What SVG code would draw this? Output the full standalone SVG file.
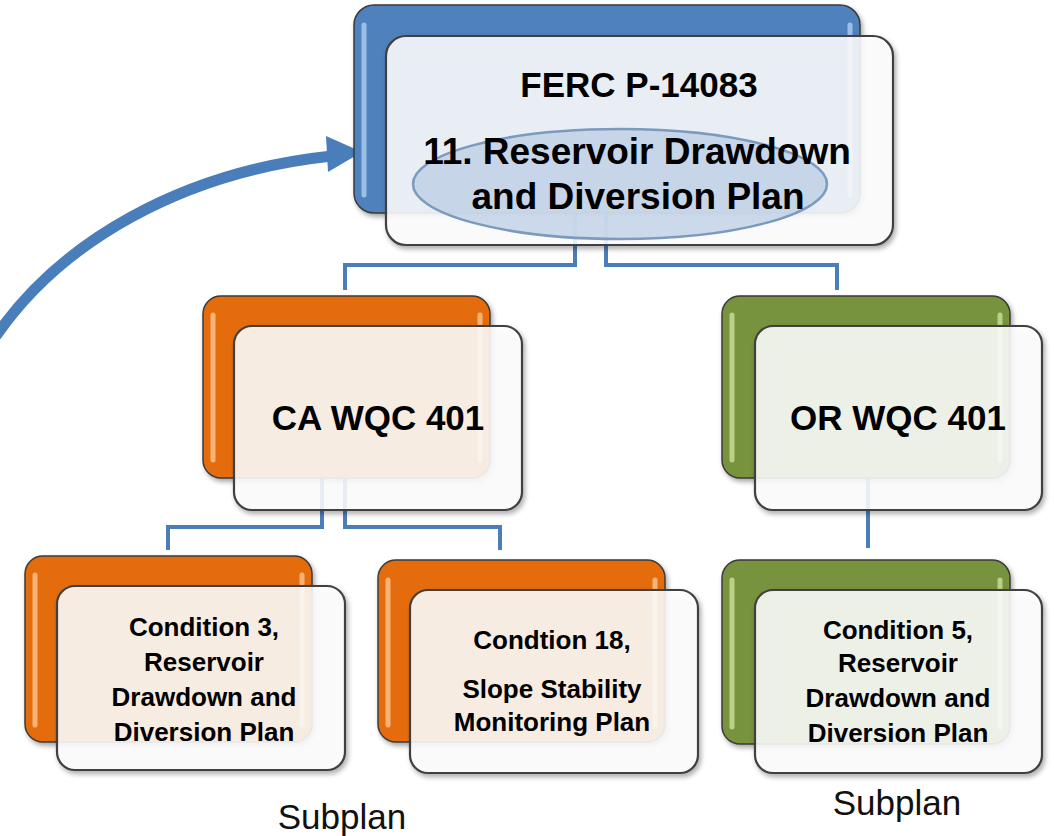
<svg xmlns="http://www.w3.org/2000/svg" width="1054" height="836" viewBox="0 0 1054 836">
<defs>
<filter id="sh" x="-10%" y="-10%" width="120%" height="120%">
<feDropShadow dx="2" dy="3" stdDeviation="2.5" flood-color="#000" flood-opacity="0.35"/>
</filter>
<style>
.bk{stroke:#3a3a3a;stroke-width:1.5;filter:url(#sh)}
.blue{fill:#4F81BD}
.orange{fill:#E46C0A}
.green{fill:#77933C}
.fr{fill:#ffffff;fill-opacity:0.86;stroke:#404040;stroke-width:2.2;filter:url(#sh)}
.hl{stroke-width:5;stroke-linecap:round;opacity:0.85}
.hlb{stroke:#A9CBEF}
.hlo{stroke:#FBC08A}
.hlg{stroke:#C6DC95}
.con{fill:none;stroke:#4A7EBB;stroke-width:4}
.t{font-family:"Liberation Sans",Arial,sans-serif;font-weight:bold;fill:#000;text-anchor:middle}
.sub{font-family:"Liberation Sans",Arial,sans-serif;font-size:35px;fill:#111;text-anchor:middle}
</style>
</defs>
<rect width="1054" height="836" fill="#fff"/>

<g id="connectors">
<path class="con" d="M575 213 V265 H345 V290"/>
<path class="con" d="M606 213 V265 H837 V290"/>
<path class="con" d="M322 478 V527 H168 V550"/>
<path class="con" d="M345 478 V527 H500 V550"/>
<path class="con" d="M868 478 V548"/>
<path d="M-4 336 C60 243 180 172 332 156" fill="none" stroke="#4A7EBB" stroke-width="11"/>
<polygon points="326,136 362,152 328,172" fill="#4A7EBB"/>
</g>

<g id="ferc">
<rect class="bk blue" x="354" y="5" width="506" height="208" rx="20"/>
<line class="hl hlb" x1="364" y1="25" x2="364" y2="195"/>
<line class="hl hlb" x1="850" y1="25" x2="850" y2="195"/>
<rect class="fr" x="386" y="36" width="507" height="209" rx="20"/>
<ellipse cx="620" cy="184" rx="207" ry="55" fill="#B3C8E2" fill-opacity="0.65" stroke="#7C99BE" stroke-width="2.5"/>
<text class="t" x="639" y="97" font-size="35">FERC P-14083</text>
<text class="t" x="637" y="164" font-size="37">11. Reservoir Drawdown</text>
<text class="t" x="638" y="209" font-size="37">and Diversion Plan</text>
</g>

<g id="ca">
<rect class="bk orange" x="203" y="296" width="287" height="182" rx="18"/>
<line class="hl hlo" x1="213" y1="315" x2="213" y2="460"/>
<line class="hl hlo" x1="480" y1="315" x2="480" y2="460"/>
<rect class="fr" x="234" y="326" width="288" height="184" rx="18"/>
<text class="t" x="378" y="430" font-size="35">CA WQC 401</text>
</g>

<g id="or">
<rect class="bk green" x="722" y="296" width="288" height="182" rx="18"/>
<line class="hl hlg" x1="732" y1="315" x2="732" y2="460"/>
<line class="hl hlg" x1="1000" y1="315" x2="1000" y2="460"/>
<rect class="fr" x="755" y="326" width="287" height="184" rx="18"/>
<text class="t" x="898" y="430" font-size="35">OR WQC 401</text>
</g>

<g id="cond3">
<rect class="bk orange" x="25" y="556" width="287" height="186" rx="18"/>
<line class="hl hlo" x1="35" y1="575" x2="35" y2="725"/>
<line class="hl hlo" x1="302" y1="575" x2="302" y2="725"/>
<rect class="fr" x="57" y="586" width="288" height="184" rx="18"/>
<text class="t" x="204" y="636" font-size="26">Condition 3,</text>
<text class="t" x="204" y="671" font-size="26">Reservoir</text>
<text class="t" x="204" y="706" font-size="26">Drawdown and</text>
<text class="t" x="204" y="741" font-size="26">Diversion Plan</text>
</g>

<g id="cond18">
<rect class="bk orange" x="378" y="560" width="287" height="182" rx="18"/>
<line class="hl hlo" x1="388" y1="580" x2="388" y2="725"/>
<line class="hl hlo" x1="655" y1="580" x2="655" y2="725"/>
<rect class="fr" x="410" y="590" width="288" height="183" rx="18"/>
<text class="t" x="552" y="649" font-size="26">Condtion 18,</text>
<text class="t" x="552" y="698" font-size="26">Slope Stability</text>
<text class="t" x="552" y="731" font-size="26">Monitoring Plan</text>
</g>

<g id="cond5">
<rect class="bk green" x="722" y="560" width="288" height="184" rx="18"/>
<line class="hl hlg" x1="732" y1="580" x2="732" y2="727"/>
<line class="hl hlg" x1="1000" y1="580" x2="1000" y2="727"/>
<rect class="fr" x="755" y="590" width="287" height="183" rx="18"/>
<text class="t" x="898" y="639" font-size="26">Condition 5,</text>
<text class="t" x="898" y="672" font-size="26">Reservoir</text>
<text class="t" x="898" y="707" font-size="26">Drawdown and</text>
<text class="t" x="898" y="742" font-size="26">Diversion Plan</text>
</g>

<g id="labels">
<text class="sub" x="342" y="829">Subplan</text>
<text class="sub" x="897" y="815">Subplan</text>
</g>
</svg>
